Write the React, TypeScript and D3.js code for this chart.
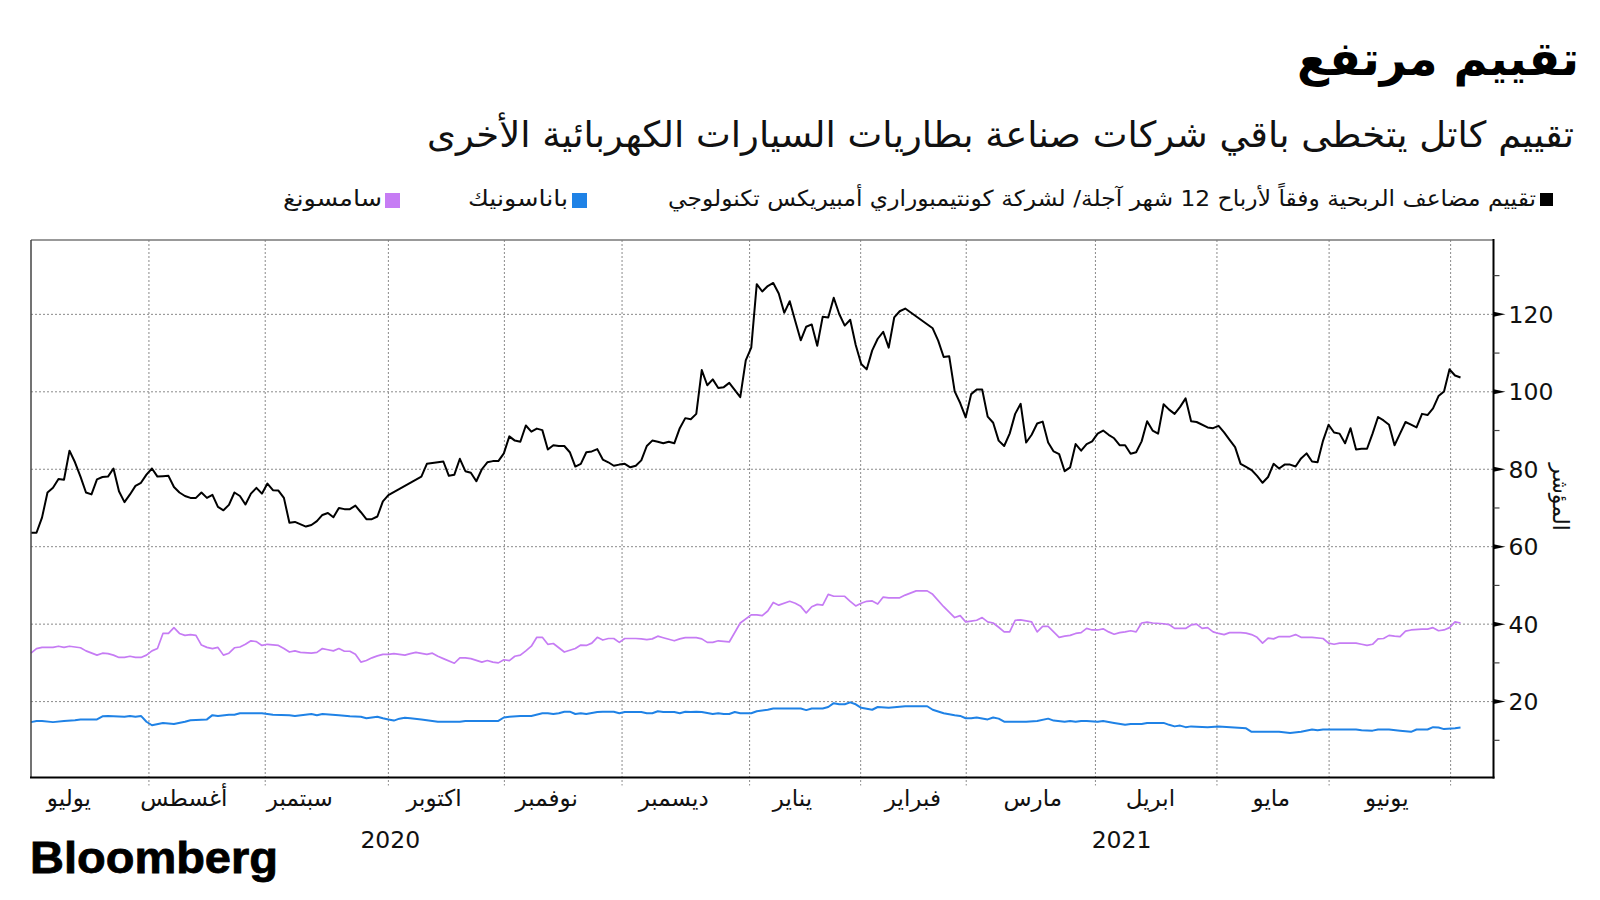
import React from "react";
import * as d3 from "d3";

// ---------- data ----------
const title = "تقييم مرتفع";
const subtitle = "تقييم كاتل يتخطى باقي شركات صناعة بطاريات السيارات الكهربائية الأخرى";
const seriesNames = [
  "تقييم مضاعف الربحية وفقاً لأرباح 12 شهر آجلة/ لشركة كونتيمبوراري أمبيريكس تكنولوجي",
  "باناسونيك",
  "سامسونغ",
];
const yAxisTitle = "المؤشر";

// trading-day index, value
const catl: [number, number][] = [
  [0,63.6],[1,63.6],[2,67.5],[3,74.0],[4,75.2],[5,77.5],[6,77.3],[7,84.8],[8,81.8],[9,78.1],
  [10,74.0],[11,73.5],[12,77.4],[13,78.0],[14,78.1],[15,80.2],[16,74.3],[17,71.5],[18,73.5],[19,75.7],
  [20,76.5],[21,78.6],[22,80.2],[23,78.1],[24,78.2],[25,78.3],[26,75.4],[27,74.0],[28,73.1],[29,72.6],
  [30,72.6],[31,74.0],[32,72.6],[33,73.4],[34,70.3],[35,69.4],[36,70.8],[37,74.0],[38,73.1],[39,70.9],
  [40,73.7],[41,75.2],[42,73.7],[43,76.3],[44,74.6],[45,74.5],[46,72.6],[47,66.2],[48,66.4],[50,65.2],
  [51,65.6],[52,66.6],[53,68.2],[54,68.7],[55,67.6],[56,70.0],[57,69.7],[58,69.7],[59,70.6],[60,68.9],
  [61,67.1],[62,67.1],[63,67.8],[64,71.7],[65,73.3],[71,78.1],[72,81.4],[75,82.0],[76,78.3],[77,78.6],
  [78,82.7],[79,79.5],[80,79.1],[81,76.9],[82,80.0],[83,81.8],[84,82.1],[85,82.1],[86,84.1],[87,88.5],
  [88,87.4],[89,87.1],[90,91.3],[91,89.7],[92,90.5],[93,90.1],[94,85.1],[95,86.2],[96,86.0],[97,86.0],
  [98,84.4],[99,80.7],[100,81.4],[101,84.4],[102,84.6],[103,85.2],[104,82.5],[105,81.8],[106,80.9],[107,81.2],
  [108,81.4],[109,80.5],[110,80.9],[111,82.3],[112,86.0],[113,87.4],[114,87.1],[115,86.7],[116,87.1],[117,86.7],
  [118,90.6],[119,93.2],[120,92.9],[121,94.3],[122,105.6],[123,101.7],[124,103.2],[125,101.0],[126,101.2],[127,102.3],
  [129,98.6],[130,108.1],[131,111.4],[132,127.8],[133,125.9],[134,127.3],[135,128.1],[136,125.4],[137,120.4],[138,123.4],
  [139,118.3],[140,113.3],[141,116.8],[142,117.4],[143,111.9],[144,119.4],[145,119.2],[146,124.3],[147,120.1],[148,117.1],
  [149,118.6],[150,112.1],[151,107.2],[152,105.8],[153,110.7],[154,113.7],[155,115.5],[156,111.4],[157,119.2],[158,120.8],
  [159,121.5],[164,116.4],[165,113.2],[166,109.0],[167,109.2],[168,100.1],[169,97.1],[170,93.4],[171,99.4],[172,100.6],
  [173,100.6],[174,93.6],[175,92.0],[176,87.4],[177,86.0],[178,89.2],[179,94.3],[180,96.9],[181,86.9],[182,88.9],
  [183,91.8],[184,92.3],[185,86.9],[186,84.6],[187,83.9],[188,79.5],[189,80.5],[190,86.5],[191,84.8],[192,86.5],
  [193,87.2],[194,89.2],[195,90.0],[196,88.9],[197,88.0],[198,86.2],[199,86.2],[200,84.0],[201,84.4],[202,87.2],
  [203,92.4],[204,90.0],[205,89.2],[206,96.8],[207,95.4],[208,94.3],[209,96.1],[210,98.3],[211,92.4],[212,92.2],
  [214,90.8],[215,90.6],[216,91.2],[217,89.5],[218,87.6],[219,85.7],[220,81.4],[221,80.6],[222,79.8],[223,78.3],
  [224,76.5],[225,78.0],[226,81.4],[227,80.2],[228,81.2],[229,81.2],[230,80.7],[231,82.8],[232,84.1],[233,82.0],
  [234,81.8],[235,87.4],[236,91.5],[237,89.5],[238,89.2],[239,86.7],[240,90.6],[241,85.1],[242,85.3],[243,85.3],
  [244,89.2],[245,93.5],[246,92.6],[247,91.5],[248,86.2],[249,89.2],[250,92.2],[251,91.5],[252,90.8],[253,94.3],
  [254,94.0],[255,95.7],[256,98.9],[257,100.1],[258,105.8],[259,104.2],[260,103.7],
];

const samsung: [number, number][] = [
  [0,32.5],[1,33.7],[2,34.0],[4,34.0],[5,34.3],[6,34.0],[7,34.3],[9,33.9],[10,33.1],[12,32.0],
  [13,32.5],[14,32.4],[15,32.0],[16,31.4],[17,31.4],[18,31.7],[19,31.4],[20,31.4],[21,32.0],[22,33.1],
  [23,33.7],[24,37.6],[25,37.6],[26,39.1],[27,37.6],[28,37.1],[29,37.3],[30,37.1],[31,34.6],[32,34.0],
  [33,33.7],[34,34.0],[35,32.0],[36,32.5],[37,33.9],[38,34.1],[39,34.8],[40,35.7],[41,35.5],[42,34.5],
  [43,34.8],[45,34.5],[46,33.7],[47,32.8],[48,33.1],[49,32.7],[51,32.5],[52,32.7],[53,33.7],[54,33.4],
  [55,33.1],[56,33.7],[57,33.0],[58,33.0],[59,32.2],[60,30.2],[61,30.6],[62,31.3],[63,31.8],[64,32.2],
  [65,32.2],[66,32.4],[67,32.2],[68,32.0],[69,32.4],[70,32.7],[72,32.2],[73,32.5],[74,31.7],[75,31.1],
  [77,29.9],[78,31.3],[79,31.3],[80,31.1],[82,30.2],[83,30.6],[84,30.2],[85,30.0],[86,30.8],[87,30.6],
  [88,31.7],[89,32.0],[90,33.1],[91,34.3],[92,36.6],[93,36.6],[94,34.8],[95,35.0],[96,33.9],[97,32.8],
  [99,33.7],[100,34.6],[101,34.5],[102,35.1],[103,36.6],[104,35.9],[105,36.3],[106,36.3],[107,35.3],[108,36.3],
  [110,36.3],[111,36.2],[112,36.0],[113,36.2],[114,36.9],[115,36.5],[117,35.7],[118,36.2],[119,36.5],[121,36.5],
  [122,36.2],[123,35.3],[124,35.3],[125,35.7],[127,35.4],[129,40.3],[131,42.4],[132,42.4],[133,42.2],[134,43.4],
  [135,45.6],[136,44.9],[138,45.9],[139,45.4],[140,44.6],[141,42.9],[142,44.5],[143,45.1],[144,44.9],[145,47.7],
  [146,47.2],[148,47.2],[149,45.9],[150,44.7],[151,45.4],[152,45.9],[153,46.0],[154,45.2],[155,47.0],[156,46.8],
  [158,46.8],[159,47.5],[161,48.6],[163,48.6],[164,47.7],[166,44.5],[168,41.7],[169,42.2],[170,40.6],[171,40.8],
  [172,41.0],[173,41.7],[174,40.6],[175,40.3],[176,39.2],[177,38.0],[178,38.0],[179,41.0],[180,41.1],[182,40.6],
  [183,38.0],[184,39.4],[185,39.4],[186,38.0],[187,36.6],[188,36.9],[189,37.1],[190,37.6],[191,37.8],[192,38.9],
  [193,38.5],[194,38.5],[195,38.8],[196,38.0],[197,37.4],[198,37.8],[199,38.0],[200,38.3],[201,38.0],[202,40.3],
  [203,40.5],[204,40.3],[206,40.1],[207,39.9],[208,38.9],[210,38.9],[211,39.8],[212,40.0],[213,38.9],[214,39.1],
  [215,38.0],[216,37.6],[217,37.3],[218,37.8],[220,37.8],[221,37.7],[222,37.3],[223,36.6],[224,35.1],[225,36.4],
  [226,36.2],[227,36.8],[229,36.8],[230,37.3],[231,36.6],[233,36.6],[235,36.3],[236,35.1],[237,34.8],[238,35.1],
  [241,35.1],[242,34.8],[243,34.5],[244,34.8],[245,36.2],[246,36.3],[247,37.1],[248,36.9],[249,36.8],[250,38.2],
  [251,38.5],[253,38.7],[254,38.7],[255,39.1],[256,38.3],[257,38.5],[258,39.1],[259,40.6],[260,40.3],
];

const panasonic: [number, number][] = [
  [0,14.7],[1,15.0],[2,15.0],[4,14.7],[6,15.0],[8,15.2],[9,15.4],[12,15.4],[13,16.2],[14,16.3],
  [17,16.1],[18,16.3],[19,16.1],[20,16.3],[21,14.8],[22,13.9],[24,14.5],[26,14.2],[28,14.8],[29,15.2],
  [32,15.4],[33,16.5],[34,16.3],[36,16.6],[37,16.6],[38,17.0],[42,17.0],[44,16.6],[47,16.5],[48,16.3],
  [51,16.8],[52,16.5],[53,16.8],[56,16.5],[58,16.2],[60,16.1],[61,15.7],[63,16.1],[64,15.7],[65,15.4],
  [66,15.1],[67,15.6],[68,15.8],[69,15.7],[71,15.4],[72,15.2],[74,14.8],[75,14.8],[78,14.8],[79,15.0],
  [85,15.0],[86,15.9],[87,16.1],[89,16.3],[91,16.3],[93,17.0],[94,17.0],[95,16.8],[96,17.0],[97,17.4],
  [98,17.4],[99,16.8],[100,17.0],[101,16.8],[103,17.3],[104,17.4],[106,17.4],[107,17.0],[108,17.3],[111,17.3],
  [112,17.0],[113,17.0],[114,17.5],[115,17.3],[117,17.3],[118,17.0],[119,17.4],[120,17.3],[121,17.4],[122,17.3],
  [124,16.8],[125,17.0],[126,16.8],[127,16.8],[128,17.3],[129,17.0],[131,17.0],[132,17.5],[134,17.9],[135,18.2],
  [140,18.2],[141,17.8],[142,18.2],[144,18.2],[145,18.6],[146,19.6],[147,19.3],[148,19.3],[149,19.8],[150,19.3],
  [151,18.4],[153,17.9],[154,18.6],[156,18.4],[159,18.8],[163,18.8],[164,17.9],[166,17.0],[168,16.5],[169,16.3],
  [170,15.7],[171,15.7],[172,15.9],[174,15.4],[175,15.9],[176,15.6],[177,14.8],[181,14.8],[183,15.0],[185,15.6],
  [186,15.1],[188,14.8],[189,15.0],[190,14.8],[191,15.0],[192,15.0],[194,14.8],[195,15.0],[197,14.5],[199,14.0],
  [200,14.2],[202,14.2],[203,14.5],[206,14.5],[207,14.0],[208,13.6],[209,13.8],[210,13.4],[211,13.6],[214,13.4],
  [216,13.6],[221,13.1],[222,12.2],[227,12.2],[229,11.9],[231,12.2],[233,12.8],[234,12.6],[235,12.8],[241,12.8],
  [242,12.6],[244,12.5],[245,12.8],[247,12.8],[249,12.5],[251,12.2],[252,12.8],[254,12.8],[255,13.4],[256,13.3],
  [257,12.9],[259,13.1],[260,13.3],
];

// month boundaries (trading-day index) and month labels
const monthStarts = [21.45, 42.6, 65.0, 86.1, 107.5, 130.7, 150.9, 170.1, 193.6, 215.7, 236.1, 258.2];
const monthLabels = ["يوليو", "أغسطس", "سبتمبر", "اكتوبر", "نوفمبر", "ديسمبر", "يناير", "فبراير", "مارس", "ابريل", "مايو", "يونيو"];
const monthLabelDays = [6.9, 27.8, 48.9, 73.3, 93.8, 116.9, 138.5, 160.4, 182.2, 203.6, 225.6, 246.6];
const years = ["2020", "2021"];
const yearSpans: [number, number][] = [[0, 130.7], [130.7, 266]];
const yMajorTicks = [20, 40, 60, 80, 100, 120];
const yMinorTicks = [10, 30, 50, 70, 90, 110, 130];

const COLORS = { catl: "#000000", panasonic: "#1f82e6", samsung: "#c67cf4" };
const AR = "'DejaVu Sans', sans-serif";

export default function App() {
  const left = 31, right = 1493.5, top = 240, bottom = 777.5;
  const x = d3.scaleLinear().domain([0, 266]).range([left, right]);
  const y = d3.scaleLinear().domain([0.4, 139.2]).range([bottom, top]);
  const line = d3.line<[number, number]>().x((d) => x(d[0])).y((d) => y(d[1]));

  return (
    <svg width={1600} height={900} style={{ position: "absolute", left: 0, top: 0, background: "#fff" }}>
      {/* title */}
      <text x={1579} y={75} textAnchor="end" fontFamily={AR} fontWeight="bold" fontSize={47} textLength={282} lengthAdjust="spacingAndGlyphs" fill="#000">{title}</text>
      <text x={1574} y={147} textAnchor="end" fontFamily={AR} fontSize={36} textLength={1147} lengthAdjust="spacingAndGlyphs" fill="#111">{subtitle}</text>

      {/* legend */}
      <rect x={1540} y={193} width={13} height={13} fill={COLORS.catl} />
      <text x={1536} y={206} textAnchor="end" fontFamily={AR} fontSize={22} textLength={868} lengthAdjust="spacingAndGlyphs" fill="#111">{seriesNames[0]}</text>
      <rect x={572} y={193} width={15} height={15} fill={COLORS.panasonic} />
      <text x={568} y={206} textAnchor="end" fontFamily={AR} fontSize={22} textLength={100} lengthAdjust="spacingAndGlyphs" fill="#111">{seriesNames[1]}</text>
      <rect x={385} y={193} width={15} height={15} fill={COLORS.samsung} />
      <text x={382} y={206} textAnchor="end" fontFamily={AR} fontSize={22} textLength={99} lengthAdjust="spacingAndGlyphs" fill="#111">{seriesNames[2]}</text>

      {/* grid */}
      {yMajorTicks.map((t) => (
        <line key={"gy" + t} x1={left} x2={right} y1={y(t)} y2={y(t)} stroke="#8a8a8a" strokeWidth={1} strokeDasharray="2,2" />
      ))}
      {monthStarts.map((m, i) => (
        <line key={"gx" + i} x1={x(m)} x2={x(m)} y1={top} y2={bottom + 8} stroke="#8a8a8a" strokeWidth={1} strokeDasharray="2,2" />
      ))}

      {/* series */}
      <path d={line(panasonic) || ""} fill="none" stroke={COLORS.panasonic} strokeWidth={2} strokeLinejoin="round" />
      <path d={line(samsung) || ""} fill="none" stroke={COLORS.samsung} strokeWidth={1.7} strokeLinejoin="round" />
      <path d={line(catl) || ""} fill="none" stroke={COLORS.catl} strokeWidth={2} strokeLinejoin="round" />

      {/* frame */}
      <line x1={left} x2={right} y1={top} y2={top} stroke="#777" strokeWidth={1.5} />
      <line x1={left} x2={left} y1={top} y2={bottom} stroke="#444" strokeWidth={1.5} />
      <line x1={left - 1} x2={right + 1} y1={bottom} y2={bottom} stroke="#000" strokeWidth={2} />
      <line x1={right} x2={right} y1={top - 1} y2={bottom + 1} stroke="#000" strokeWidth={2} />

      {/* right axis */}
      {yMinorTicks.map((t) => (
        <line key={"mt" + t} x1={right} x2={right + 6} y1={y(t)} y2={y(t)} stroke="#444" strokeWidth={1.2} />
      ))}
      {yMajorTicks.map((t) => (
        <g key={"yt" + t}>
          <path d={`M${right},${y(t) - 2.5}L${right + 12},${y(t)}L${right},${y(t) + 2.5}Z`} fill="#000" />
          <text x={right + 15} y={y(t)} dy="0.36em" fontFamily={AR} fontSize={23.5} fill="#111">{t}</text>
        </g>
      ))}
      <text transform={`translate(1561,497) rotate(90)`} textAnchor="middle" dy="0.35em" fontFamily={AR} fontSize={22} fill="#111">{yAxisTitle}</text>

      {/* x labels */}
      {monthLabels.map((m, i) => (
        <text key={"ml" + i} x={x(monthLabelDays[i])} y={806} textAnchor="middle" fontFamily={AR} fontSize={23} fill="#111">{m}</text>
      ))}
      {years.map((yr, i) => (
        <text key={"yr" + i} x={x((yearSpans[i][0] + yearSpans[i][1]) / 2)} y={848} textAnchor="middle" fontFamily={AR} fontSize={23.5} fill="#111">{yr}</text>
      ))}

      {/* logo */}
      <text x={30} y={873} fontFamily="'Liberation Sans', Arial, sans-serif" fontWeight="bold" fontSize={44} textLength={248} lengthAdjust="spacingAndGlyphs" fill="#000" stroke="#000" strokeWidth={0.8}>Bloomberg</text>
    </svg>
  );
}
